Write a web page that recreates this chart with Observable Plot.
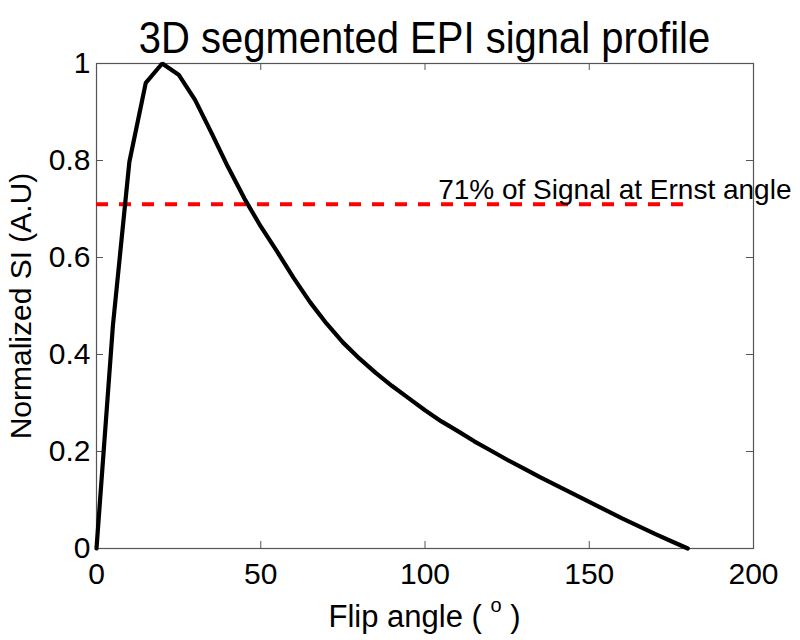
<!DOCTYPE html>
<html><head><meta charset="utf-8">
<script src="https://cdn.jsdelivr.net/npm/d3@7"></script>
<script src="https://cdn.jsdelivr.net/npm/@observablehq/plot@0.6"></script>
<style>
body{margin:0;background:#fff;font-family:"Liberation Sans",Arial,sans-serif;color:#000;}
#title{box-sizing:border-box;height:55px;padding:16px 47px 0 96px;font-size:40px;line-height:46px;text-align:center;white-space:nowrap;}
#title span{display:inline-block;transform:scaleY(1.12);transform-origin:50% 80%;}
#xlabel{box-sizing:border-box;height:40px;padding:0 47px 0 96px;font-size:31px;line-height:34px;text-align:center;white-space:nowrap;}
#xlabel sup{font-size:20px;vertical-align:0.75em;line-height:0;}
</style></head><body>
<div id="title"><span>3D segmented EPI signal profile</span></div>
<div id="chart"></div>
<div id="xlabel">Flip angle ( <sup>o</sup> )</div>
<script>
const flipAngles = [0,5,10,15,20,25,30,35,40,45,50,55,60,65,70,75,80,85,90,95,100,105,110,115,120,125,130,135,140,145,150,155,160,165,170,175,180];
const signal = [0,0.46,0.797,0.96,1.0,0.977,0.925,0.857,0.787,0.722,0.664,0.612,0.558,0.508,0.464,0.425,0.392,0.362,0.335,0.31,0.285,0.262,0.242,0.221,0.202,0.183,0.165,0.147,0.13,0.113,0.096,0.079,0.062,0.046,0.03,0.015,0];
const xTicks = [0,50,100,150,200];
const yTicks = [0,0.2,0.4,0.6,0.8,1];
const xDomain = [0,200];
const yDomain = [0,1];
const threshold = 0.71;
const thresholdRange = [0,180];
const annotation = "71% of Signal at Ernst angle";
const annotationX = 104;

const data = flipAngles.map((a,i)=>({angle:a, si:signal[i]}));

const W = 800, H = 545, mL = 96, mR = 47, mT = 8, mB = 52;
const innerW = W - mL - mR, innerH = H - mT - mB;
const tickLen = 7;
const axisColor = "#555";

const chart = Plot.plot({
  width: W, height: H,
  marginLeft: mL, marginRight: mR, marginTop: mT, marginBottom: mB,
  style: {fontFamily: "Liberation Sans, Arial, sans-serif", fontSize: "30px", background: "white", color: "black", overflow: "visible"},
  x: {domain: xDomain},
  y: {domain: yDomain},
  marks: [
    Plot.frame({stroke: axisColor, strokeWidth: 1.2}),
    Plot.tickX(xTicks, {x: d=>d, stroke: axisColor, insetTop: innerH - tickLen}),
    Plot.tickX(xTicks, {x: d=>d, stroke: axisColor, insetBottom: innerH - tickLen}),
    Plot.tickY(yTicks, {y: d=>d, stroke: axisColor, insetRight: innerW - tickLen}),
    Plot.tickY(yTicks, {y: d=>d, stroke: axisColor, insetLeft: innerW - tickLen}),
    Plot.axisX(xTicks, {tickSize: 0, tickPadding: 14, label: null, fontSize: 30, tickFormat: d=>String(d)}),
    Plot.axisY(yTicks, {tickSize: 0, tickPadding: 6, label: "Normalized SI (A.U)", labelAnchor: "center", labelOffset: 87, labelArrow: "none", fontSize: 30, tickFormat: d=>String(d)}),
    Plot.ruleY([threshold], {x1: thresholdRange[0], x2: thresholdRange[1], stroke: "#ff0000", strokeWidth: 4, strokeDasharray: "12,11"}),
    Plot.line(data, {x: "angle", y: "si", stroke: "black", strokeWidth: 4.2, strokeLinejoin: "miter"}),
    Plot.text([annotation], {x: annotationX, y: threshold, text: d=>d, textAnchor: "start", lineAnchor: "bottom", dy: -5, fontSize: 28, fill: "black"})
  ]
});
document.getElementById("chart").appendChild(chart);
</script>
</body></html>
